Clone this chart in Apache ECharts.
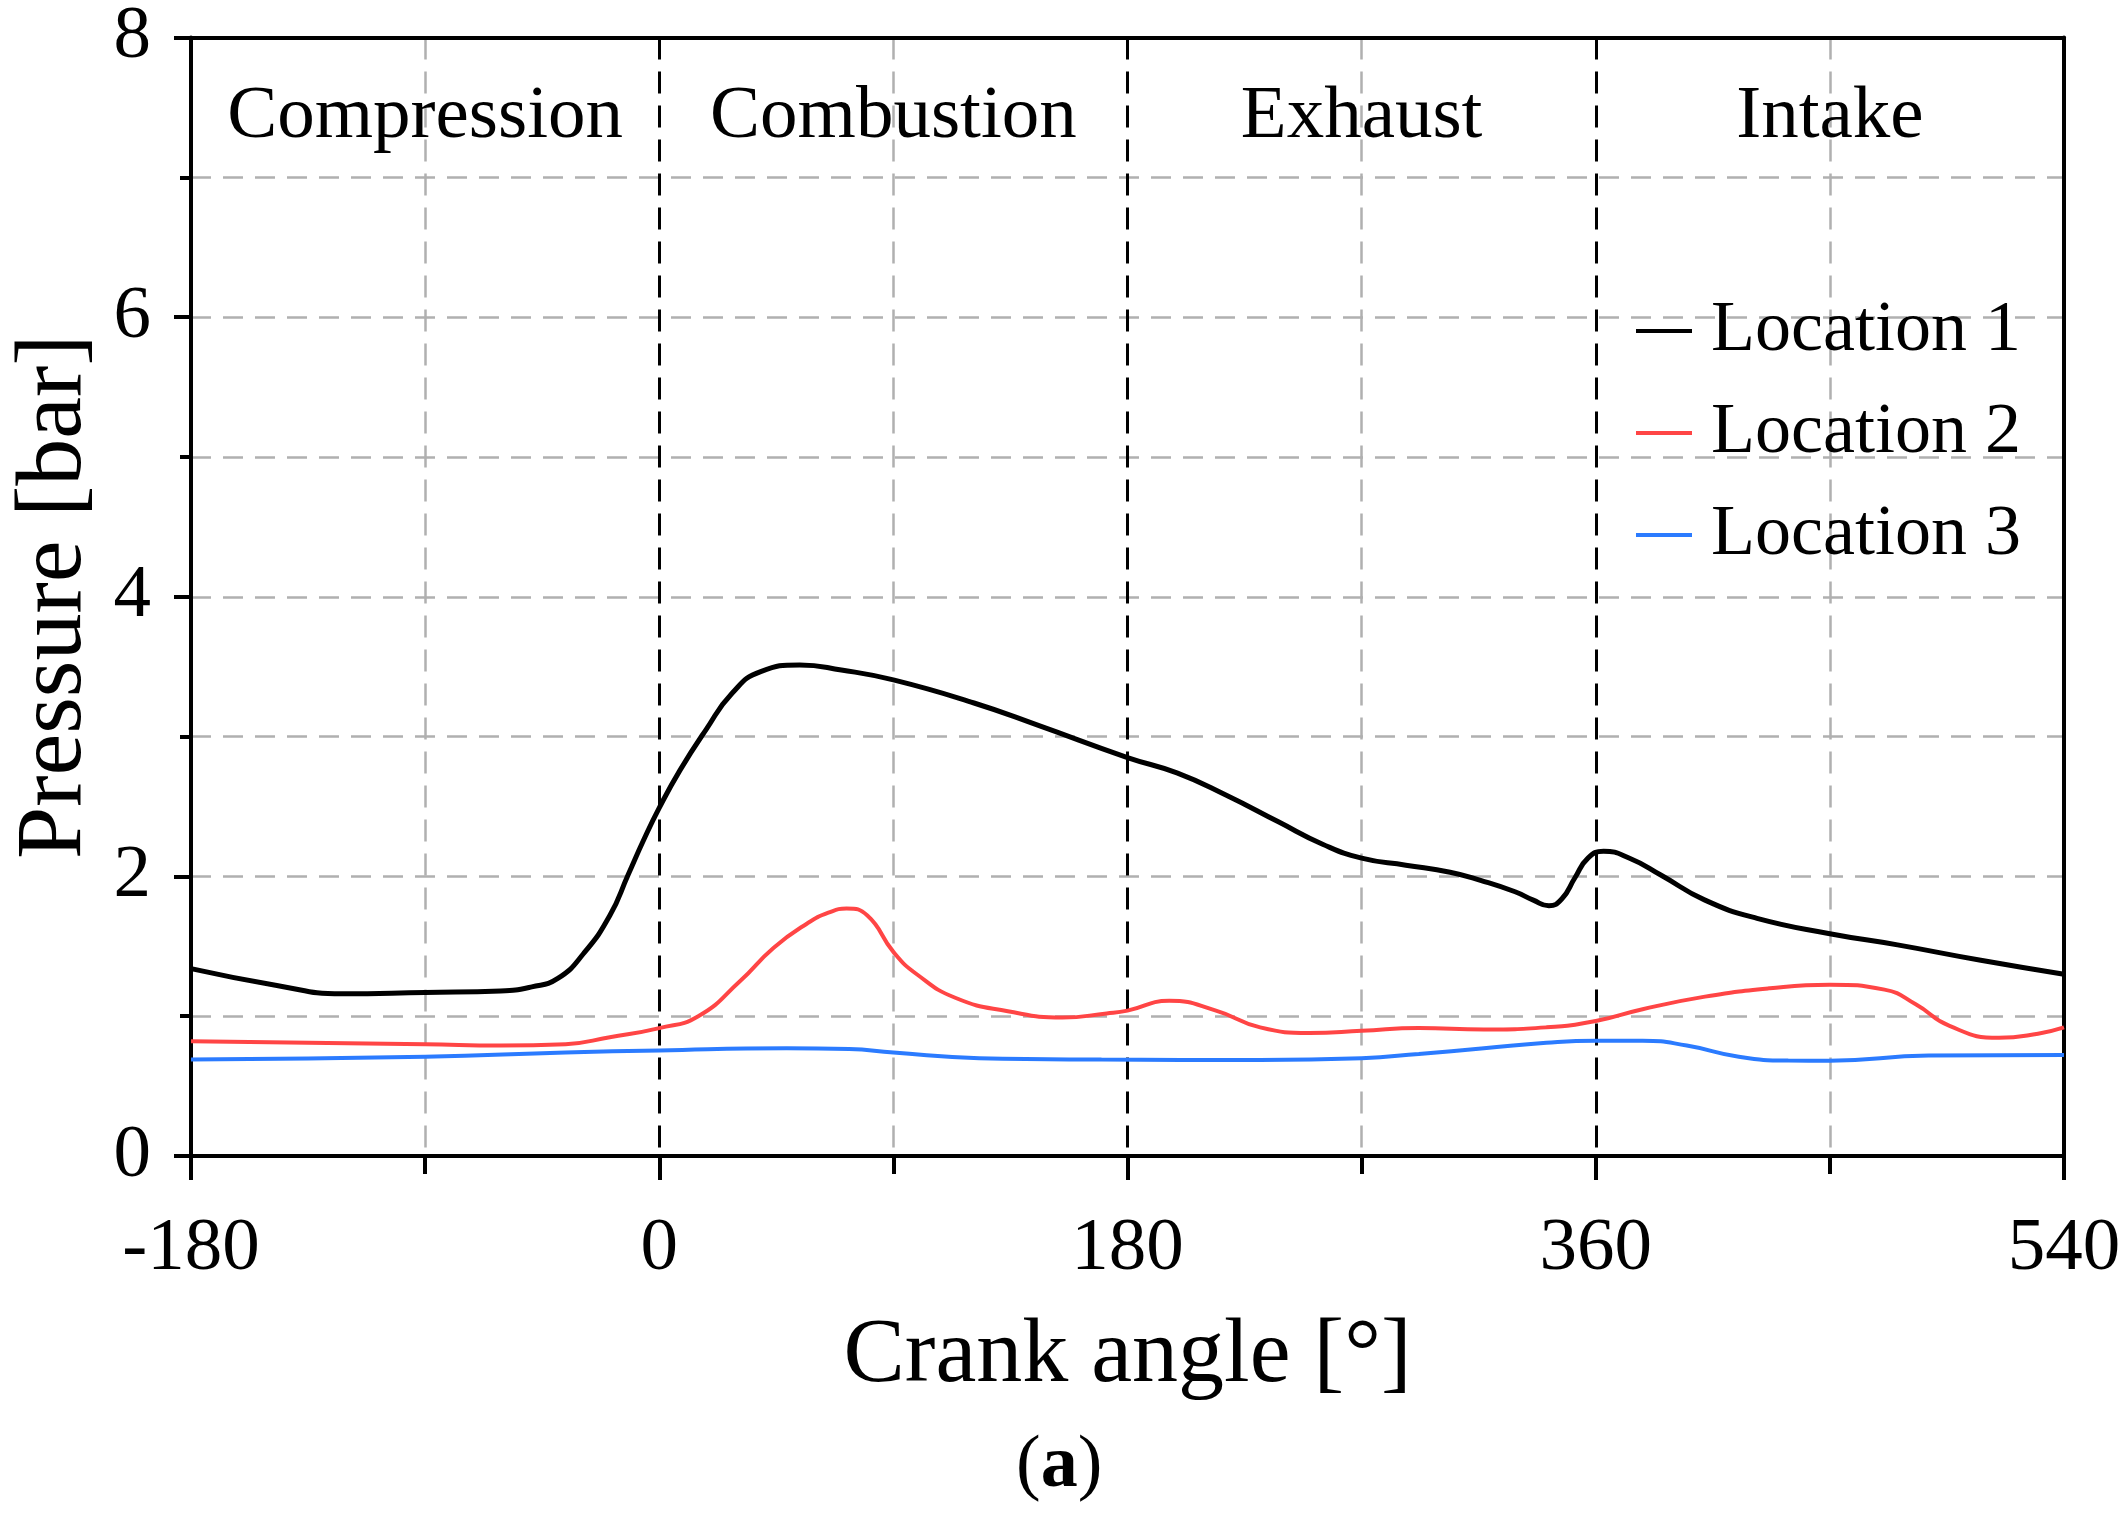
<!DOCTYPE html>
<html>
<head>
<meta charset="utf-8">
<script src="https://cdn.jsdelivr.net/npm/echarts@6/dist/echarts.min.js"></script>
<style>
  html, body { margin: 0; padding: 0; background: #fff; }
  #chart { width: 2128px; height: 1514px; }
</style>
</head>
<body>
<div id="chart"></div>
<script>
// ---- Data ----
const xTicks = [-180, 0, 180, 360, 540];
const yTicks = [0, 2, 4, 6, 8];

const seriesNames = ['Location 1', 'Location 2', 'Location 3'];

const loc1Angle = [-180,-147,-122,-90,-61,-49,-39,-29,-19,-12,-6,0,8,18,28,39,54,70,90,121,146,180,199,218,238,255,270,287,304,316,329,336,342,347,352,357,363,373,385,402,422,450,476,508,540];
const loc1Pressure = [1.34,1.22,1.16,1.17,1.18,1.21,1.27,1.45,1.72,2.01,2.26,2.49,2.76,3.05,3.31,3.465,3.512,3.476,3.405,3.24,3.078,2.85,2.74,2.58,2.39,2.23,2.13,2.08,2.03,1.97,1.89,1.83,1.79,1.84,1.99,2.13,2.18,2.13,2.01,1.83,1.70,1.59,1.51,1.40,1.30];

const loc2Angle = [-180,-90,-61,-36,-19,0,15,31,44,57,65,72,80,90,99,114,134,155,172,180,196,214,231,250,270,292,317,341,360,378,402,427,450,471,483,496,515,530,540];
const loc2Pressure = [0.82,0.80,0.79,0.80,0.85,0.915,1.00,1.25,1.49,1.665,1.74,1.77,1.72,1.46,1.30,1.13,1.035,0.99,1.02,1.04,1.11,1.04,0.92,0.88,0.895,0.915,0.905,0.92,0.965,1.05,1.14,1.20,1.225,1.19,1.085,0.93,0.845,0.875,0.92];

const loc3Angle = [-180,-90,-36,0,49,73,90,123,170,231,270,292,317,341,360,378,395,415,434,450,488,540];
const loc3Pressure = [0.69,0.71,0.74,0.755,0.77,0.765,0.74,0.70,0.69,0.687,0.70,0.73,0.77,0.81,0.825,0.825,0.79,0.71,0.683,0.682,0.718,0.722];

const phaseNames = ['Compression', 'Combustion', 'Exhaust', 'Intake'];
const phaseCenters = [-90, 90, 270, 450];
const phaseLabelLevel = 7.43;

const panelLabel = 'a';

// ---- Build ----
const FONT = 'Liberation Serif';
const zip = (xs, ys) => xs.map((x, i) => [x, ys[i]]);

const chart = echarts.init(document.getElementById('chart'), null, { renderer: 'canvas' });

const hiddenAxisBits = {
  axisTick: { show: false }, axisLabel: { show: false },
  splitLine: { show: false }, minorTick: { show: false }, minorSplitLine: { show: false }
};

const lineBase = { type: 'line', showSymbol: false, symbol: 'none', smooth: 0.5 };

const option = {
  backgroundColor: '#ffffff',
  animation: false,
  textStyle: { fontFamily: FONT, color: '#000' },
  grid: {
    left: 191, right: 64, top: 30, bottom: 358
  },
  legend: {
    data: seriesNames,
    orient: 'vertical',
    left: 1631,
    top: 286,
    icon: 'rect',
    itemWidth: 56,
    itemHeight: 4,
    itemGap: 22,
    textStyle: { fontFamily: FONT, fontSize: 72, color: '#000', lineHeight: 80, padding: [0, 0, 0, 14] }
  },
  xAxis: [
    {
      type: 'value',
      min: xTicks[0], max: xTicks[xTicks.length - 1], interval: 180,
      name: 'Crank angle [°]',
      nameLocation: 'middle',
      nameGap: 155,
      nameTextStyle: { fontFamily: FONT, fontSize: 92, color: '#000' },
      axisLine: { show: true, onZero: false, lineStyle: { color: '#000', width: 4 } },
      axisTick: { show: true, length: 24, lineStyle: { color: '#000', width: 4 } },
      minorTick: { show: true, splitNumber: 2, length: 18, lineStyle: { color: '#000', width: 4 } },
      axisLabel: { fontFamily: FONT, fontSize: 75, color: '#000', margin: 56 },
      splitLine: { show: true, lineStyle: { color: '#000', width: 3, type: [22, 12] } },
      minorSplitLine: { show: true, lineStyle: { color: '#b0b0b0', width: 2.5, type: [22, 12] } },
      z: 2
    },
    Object.assign({
      type: 'value', position: 'top',
      min: xTicks[0], max: xTicks[xTicks.length - 1], interval: 180,
      axisLine: { show: true, onZero: false, lineStyle: { color: '#000', width: 4 } },
      z: 3
    }, hiddenAxisBits)
  ],
  yAxis: [
    {
      type: 'value',
      min: yTicks[0], max: yTicks[yTicks.length - 1], interval: 2,
      name: 'Pressure [bar]',
      nameLocation: 'middle',
      nameGap: 82,
      nameTextStyle: { fontFamily: FONT, fontSize: 94, color: '#000' },
      axisLine: { show: true, onZero: false, lineStyle: { color: '#000', width: 4 } },
      axisTick: { show: true, length: 17, lineStyle: { color: '#000', width: 4 } },
      minorTick: { show: true, splitNumber: 2, length: 11, lineStyle: { color: '#000', width: 4 } },
      axisLabel: { fontFamily: FONT, fontSize: 75, color: '#000', margin: 40 },
      splitLine: { show: true, lineStyle: { color: '#b0b0b0', width: 2.5, type: [20, 12] } },
      minorSplitLine: { show: true, lineStyle: { color: '#b0b0b0', width: 2.5, type: [20, 12] } },
      z: 2
    },
    Object.assign({
      type: 'value', position: 'right',
      min: yTicks[0], max: yTicks[yTicks.length - 1], interval: 2,
      axisLine: { show: true, onZero: false, lineStyle: { color: '#000', width: 4 } },
      z: 3
    }, hiddenAxisBits)
  ],
  series: [
    Object.assign({}, lineBase, {
      name: seriesNames[0], data: zip(loc1Angle, loc1Pressure),
      lineStyle: { color: '#000000', width: 5 }, itemStyle: { color: '#000000' }, z: 5
    }),
    Object.assign({}, lineBase, {
      name: seriesNames[1], data: zip(loc2Angle, loc2Pressure),
      lineStyle: { color: '#ff4545', width: 4 }, itemStyle: { color: '#ff4545' }, z: 4
    }),
    Object.assign({}, lineBase, {
      name: seriesNames[2], data: zip(loc3Angle, loc3Pressure),
      lineStyle: { color: '#2b7bff', width: 4 }, itemStyle: { color: '#2b7bff' }, z: 3
    }),
    {
      name: 'phases', type: 'scatter',
      data: phaseCenters.map((c, i) => ({ value: [c, phaseLabelLevel], name: phaseNames[i] })),
      symbolSize: 0, silent: true,
      itemStyle: { color: '#000', opacity: 1 },
      label: {
        show: true, position: 'inside', formatter: p => p.name,
        fontFamily: FONT, fontSize: 75, color: '#000000', opacity: 1,
        textBorderWidth: 0, textShadowBlur: 0
      }
    }
  ],
  graphic: [
    {
      type: 'text',
      left: 1016, top: 1430,
      style: {
        text: '{p|(}{b|' + panelLabel + '}{p|)}',
        rich: {
          p: { fontFamily: FONT, fontSize: 74, fill: '#000' },
          b: { fontFamily: FONT, fontSize: 74, fontWeight: 'bold', fill: '#000' }
        }
      }
    }
  ]
};

chart.setOption(option);
</script>
</body>
</html>
